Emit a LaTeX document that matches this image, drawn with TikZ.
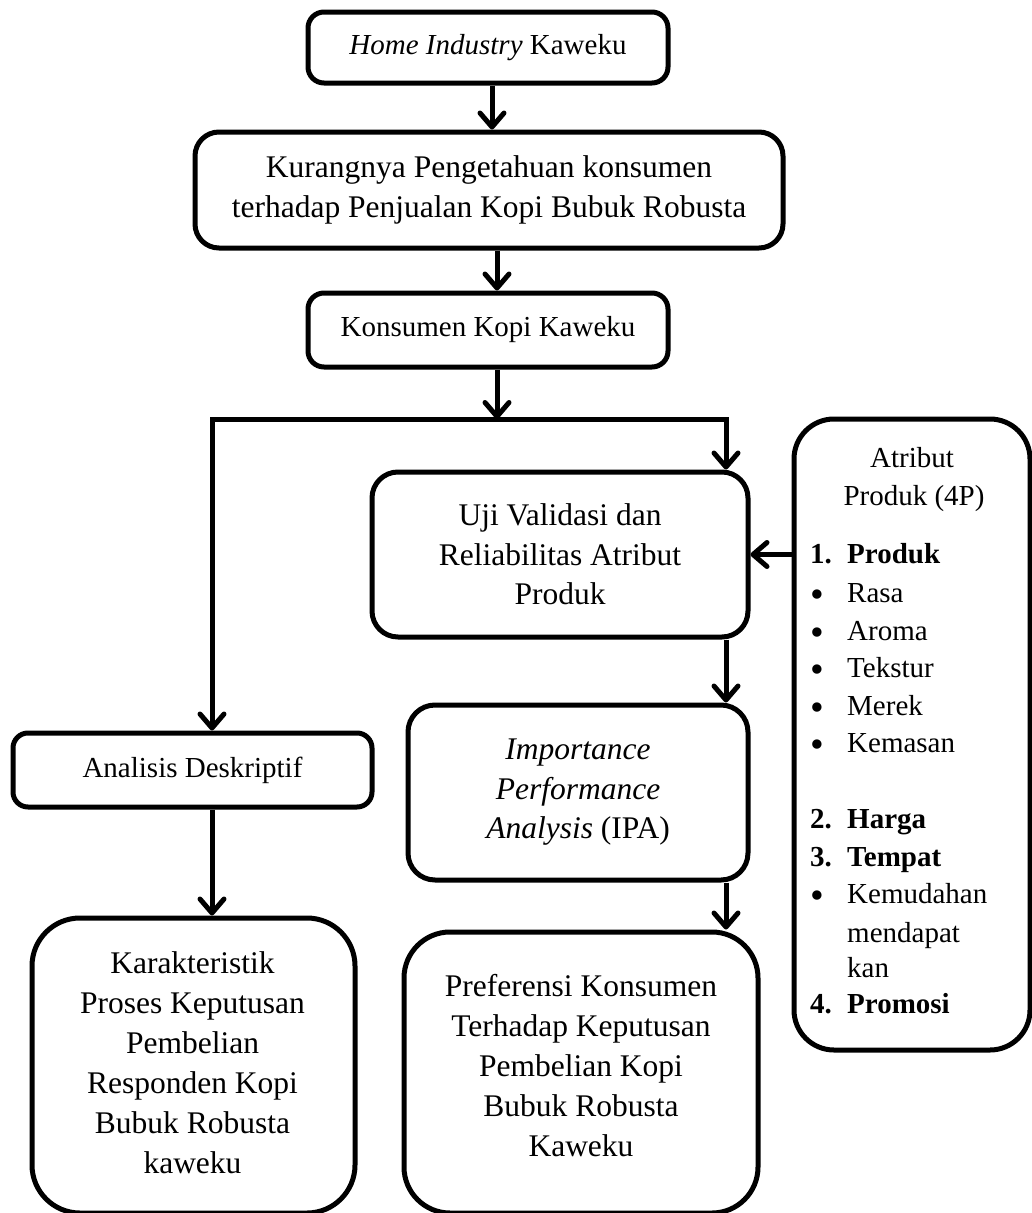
\documentclass[tikz,border=0pt]{standalone}
\usepackage{fontspec}
\setmainfont{Liberation Serif}
\usetikzlibrary{arrows.meta}
\newcommand\bigfnt{\fontsize{31.5}{39.5}\selectfont}
\newcommand\bigfntb{\fontsize{31.5}{40}\selectfont}
\newcommand\midfnt{\fontsize{29}{36}\selectfont}
\newcommand\smallfnt{\fontsize{29}{37.5}\selectfont}
\newcommand\bul{\raisebox{-5pt}{\scalebox{1.35}{\textbullet}}}
\tikzset{
  box/.style={draw, line width=5pt, rounded corners=#1, inner sep=0pt, font=\bigfnt, align=center},
  box/.default=14pt,
  tip/.tip={Straight Barb[length=14pt,width=24pt,round]},
  arr/.style={line width=5pt, -tip},
  both/.style={line width=5pt, line join=miter, tip-tip},
  txt/.style={font=\bigfntb, align=center, inner sep=0pt},
  small/.style={font=\smallfnt, inner sep=0pt, anchor=base west},
}
\begin{document}
\begin{tikzpicture}[x=1pt,y=-1pt]
\fill[white] (0,0) rectangle (1032,1213);
\useasboundingbox (0,0) rectangle (1032,1213);

% boxes
\node[box=16pt, font=\midfnt, minimum width=360pt, minimum height=71pt] (b1) at (488,47.5) {\textit{Home Industry} Kaweku};
\node[box=24pt, font=\bigfntb, minimum width=588pt, minimum height=116pt] (b2) at (489,190) {Kurangnya Pengetahuan konsumen\\terhadap Penjualan Kopi Bubuk Robusta};
\node[box=16pt, font=\midfnt, minimum width=360pt, minimum height=74pt] (b3) at (488,330) {Konsumen Kopi Kaweku};
\node[box=26pt, minimum width=376pt, minimum height=165pt] (uji) at (560,554.5) {Uji Validasi dan\\Reliabilitas Atribut\\Produk};
\node[box=27pt, minimum width=340pt, minimum height=175pt] (ipa) at (578,792.5) {\textit{Importance}\\\textit{Performance}\\\textit{Analysis} (IPA)};
\node[box=15pt, font=\midfnt, minimum width=359pt, minimum height=74pt] (ana) at (192.5,770) {Analisis Deskriptif};
\node[box=48pt, minimum width=323pt, minimum height=295pt] (kar) at (193.5,1065.5) {};
\node[txt, anchor=north] (kartext) at (192.5,951) {Karakteristik\\Proses Keputusan\\Pembelian\\Responden Kopi\\Bubuk Robusta\\kaweku};
\node[box=46pt, minimum width=354pt, minimum height=281pt] (pref) at (581,1072.5) {};
\node[txt, anchor=north] (preftext) at (581,974) {Preferensi Konsumen\\Terhadap Keputusan\\Pembelian Kopi\\Bubuk Robusta\\Kaweku};
\node[box=40pt, minimum width=236pt, minimum height=631pt] (atr) at (912,734.5) {};

% Atribut contents
\node[small, anchor=base] (ah1) at (912,467) {Atribut};
\node[small, anchor=base] (ah2) at (914,505) {Produk (4P)};
\node[small] (n1) at (810,563) {\textbf{1.}};
\node[small] (p1) at (847,563) {\textbf{Produk}};
\node[small] (u1) at (810,602) {\bul};
\node[small] (r1) at (847,602) {Rasa};
\node[small] (u2) at (810,640) {\bul};
\node[small] (r2) at (847,640) {Aroma};
\node[small] (u3) at (810,677) {\bul};
\node[small] (r3) at (847,677) {Tekstur};
\node[small] (u4) at (810,715) {\bul};
\node[small] (r4) at (847,715) {Merek};
\node[small] (u5) at (810,752) {\bul};
\node[small] (r5) at (847,752) {Kemasan};
\node[small] (n2) at (810,828) {\textbf{2.}};
\node[small] (p2) at (847,828) {\textbf{Harga}};
\node[small] (n3) at (810,866) {\textbf{3.}};
\node[small] (p3) at (847,866) {\textbf{Tempat}};
\node[small] (u6) at (810,903) {\bul};
\node[small] (r6) at (847,903) {Kemudahan};
\node[small] (r7) at (847,942) {mendapat};
\node[small] (r8) at (847,977) {kan};
\node[small] (n4) at (810,1013) {\textbf{4.}};
\node[small] (p4) at (847,1013) {\textbf{Promosi}};

% helper coordinates
\coordinate (x1) at (492,0);
\coordinate (x2) at (497,0);
\coordinate (jc) at (497,419);
\coordinate (hl) at (212,419);
\coordinate (hr) at (726,419);

% connectors
\draw[arr] (b1.south -| x1) -- (b2.north -| x1);
\draw[arr] (b2.south -| x2) -- (b3.north -| x2);
\draw[arr] (b3.south -| x2) -- (jc);
\draw[both] (hl |- ana.north) -- (hl) -- (hr) -- (hr |- uji.north);
\draw[arr] (uji.south -| hr) -- (ipa.north -| hr);
\draw[arr] (ipa.south -| hr) -- (pref.north -| hr);
\draw[arr] (ana.south -| hl) -- (kar.north -| hl);
\draw[arr] (atr.west |- uji.east) -- (uji.east);
\end{tikzpicture}
\end{document}
